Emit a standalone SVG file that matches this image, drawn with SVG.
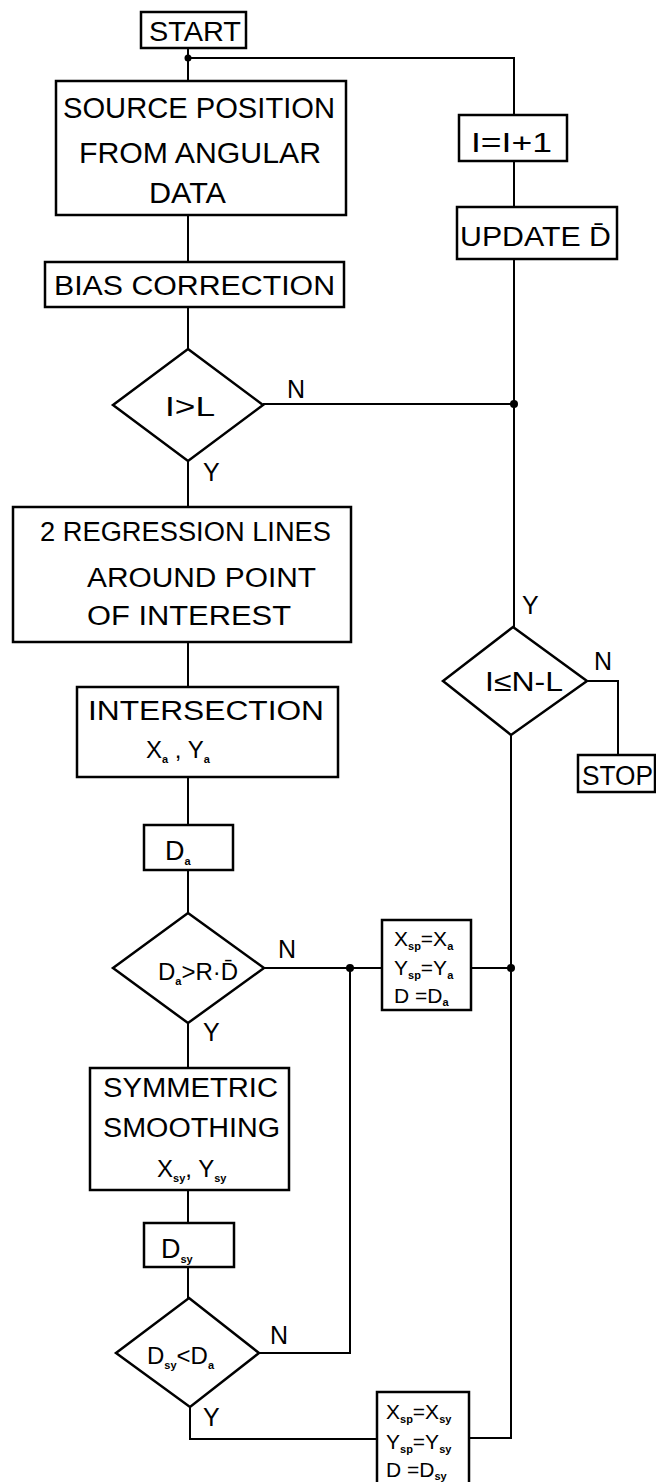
<svg xmlns="http://www.w3.org/2000/svg" width="656" height="1482" viewBox="0 0 656 1482">
<style>
.b{fill:#fff;stroke:#000;stroke-width:2.5}
.c{fill:none;stroke:#000;stroke-width:2}
.t{font-family:"Liberation Sans",Arial,sans-serif;fill:#000;font-size:27px}
.s{font-family:"Liberation Sans",Arial,sans-serif;fill:#000;font-size:24px}
.a{font-family:"Liberation Sans",Arial,sans-serif;fill:#000;font-size:21px}
.sub{font-size:11px;font-weight:bold}
.l{font-family:"Liberation Sans",Arial,sans-serif;fill:#000;font-size:25px}
</style>
<rect width="656" height="1482" fill="#fff"/>
<g id="connectors">
<path class="c" d="M188 48V81M188 58H514V115M514 161V207M514 259V627"/>
<path class="c" d="M188 215V262M188 307V349M188 461V507M188 642V687M188 777V825M188 870V913M188 1023V1068M188 1190V1223M188 1267V1298"/>
<path class="c" d="M263 404H514"/>
<path class="c" d="M587 681H618V755"/>
<path class="c" d="M511 735V1438H469"/>
<path class="c" d="M264 968H382M471 968H511"/>
<path class="c" d="M259 1353H350V968"/>
<path class="c" d="M190 1407V1439H377"/>
<circle cx="188" cy="58" r="3.5"/>
<circle cx="514" cy="404" r="4"/>
<circle cx="350" cy="968" r="4"/>
<circle cx="511" cy="968" r="4"/>
<text class="l" x="287" y="398">N</text>
<text class="l" x="203" y="481">Y</text>
<text class="l" x="522" y="614">Y</text>
<text class="l" x="594" y="670">N</text>
<text class="l" x="278" y="958">N</text>
<text class="l" x="203" y="1041">Y</text>
<text class="l" x="270" y="1344">N</text>
<text class="l" x="203" y="1426">Y</text>
</g>
<g id="start">
<rect class="b" x="141" y="12" width="105" height="36"/>
<text class="t" x="149" y="41" textLength="92" lengthAdjust="spacingAndGlyphs" font-size="28">START</text>
</g>
<g id="source">
<rect class="b" x="56" y="81" width="290" height="134"/>
<text class="t" x="63" y="118" textLength="272" lengthAdjust="spacingAndGlyphs" style="font-size:29px">SOURCE POSITION</text>
<text class="t" x="79" y="163" textLength="242" lengthAdjust="spacingAndGlyphs" style="font-size:29px">FROM ANGULAR</text>
<text class="t" x="149" y="203" textLength="77" lengthAdjust="spacingAndGlyphs" style="font-size:29px">DATA</text>
</g>
<g id="bias">
<rect class="b" x="45" y="262" width="299" height="45"/>
<text class="t" x="54" y="295" textLength="281" lengthAdjust="spacingAndGlyphs">BIAS CORRECTION</text>
</g>
<g id="incr">
<rect class="b" x="459" y="115" width="108" height="46"/>
<text class="t" x="471" y="152" textLength="81" lengthAdjust="spacingAndGlyphs">I=I+1</text>
</g>
<g id="update">
<rect class="b" x="457" y="207" width="160" height="52"/>
<text class="t" x="460" y="246" textLength="151" lengthAdjust="spacingAndGlyphs">UPDATE D̄</text>
</g>
<g id="dec1">
<polygon class="b" points="188,349 263,405 188,461 113,405"/>
<text class="t" x="165" y="416" textLength="50" lengthAdjust="spacingAndGlyphs">I&gt;L</text>
</g>
<g id="regression">
<rect class="b" x="13" y="507" width="338" height="135"/>
<text class="t" x="40" y="541" textLength="291" lengthAdjust="spacingAndGlyphs">2 REGRESSION LINES</text>
<text class="t" x="87" y="587" textLength="229" lengthAdjust="spacingAndGlyphs">AROUND POINT</text>
<text class="t" x="87" y="625" textLength="204" lengthAdjust="spacingAndGlyphs">OF INTEREST</text>
</g>
<g id="dec2">
<polygon class="b" points="513,627 587,681 511,735 443,681"/>
<text class="t" x="485" y="691" textLength="78" lengthAdjust="spacingAndGlyphs">I≤N-L</text>
</g>
<g id="stop">
<rect class="b" x="578" y="755" width="77" height="37"/>
<text class="t" x="582" y="785" textLength="71" lengthAdjust="spacingAndGlyphs">STOP</text>
</g>
<g id="intersection">
<rect class="b" x="77" y="687" width="261" height="90"/>
<text class="t" x="88" y="720" textLength="236" lengthAdjust="spacingAndGlyphs">INTERSECTION</text>
<text class="s" x="146" y="758">X<tspan class="sub" dy="5">a</tspan><tspan dy="-5"> , Y</tspan><tspan class="sub" dy="5">a</tspan></text>
</g>
<g id="da">
<rect class="b" x="144" y="825" width="89" height="45"/>
<text class="t" x="165" y="860">D<tspan class="sub" dy="5">a</tspan></text>
</g>
<g id="dec3">
<polygon class="b" points="188,913 264,968 188,1023 113,968"/>
<text class="s" x="158" y="980">D<tspan class="sub" dy="5">a</tspan><tspan dy="-5">&gt;R·D̄</tspan></text>
</g>
<g id="assign1">
<rect class="b" x="382" y="920" width="89" height="90"/>
<text class="a" x="394" y="946">X<tspan class="sub" dy="4">sp</tspan><tspan dy="-4">=X</tspan><tspan class="sub" dy="4">a</tspan></text>
<text class="a" x="394" y="975">Y<tspan class="sub" dy="4">sp</tspan><tspan dy="-4">=Y</tspan><tspan class="sub" dy="4">a</tspan></text>
<text class="a" x="394" y="1003">D =D<tspan class="sub" dy="3">a</tspan></text>
</g>
<g id="symmetric">
<rect class="b" x="90" y="1068" width="199" height="122"/>
<text class="t" x="103" y="1097" textLength="175" lengthAdjust="spacingAndGlyphs">SYMMETRIC</text>
<text class="t" x="103" y="1137" textLength="177" lengthAdjust="spacingAndGlyphs">SMOOTHING</text>
<text class="s" x="157" y="1177">X<tspan class="sub" dy="5">sy</tspan><tspan dy="-5">, Y</tspan><tspan class="sub" dy="5">sy</tspan></text>
</g>
<g id="dsy">
<rect class="b" x="144" y="1223" width="90" height="44"/>
<text class="t" x="161" y="1258">D<tspan class="sub" dy="5">sy</tspan></text>
</g>
<g id="dec4">
<polygon class="b" points="189,1298 259,1353 190,1407 116,1353"/>
<text class="s" x="147" y="1364">D<tspan class="sub" dy="5">sy</tspan><tspan dy="-5">&lt;D</tspan><tspan class="sub" dy="5">a</tspan></text>
</g>
<g id="assign2">
<rect class="b" x="377" y="1392" width="92" height="94"/>
<text class="a" x="386" y="1419">X<tspan class="sub" dy="4">sp</tspan><tspan dy="-4">=X</tspan><tspan class="sub" dy="4">sy</tspan></text>
<text class="a" x="386" y="1449">Y<tspan class="sub" dy="4">sp</tspan><tspan dy="-4">=Y</tspan><tspan class="sub" dy="4">sy</tspan></text>
<text class="a" x="386" y="1477">D =D<tspan class="sub" dy="3">sy</tspan></text>
</g>
</svg>
